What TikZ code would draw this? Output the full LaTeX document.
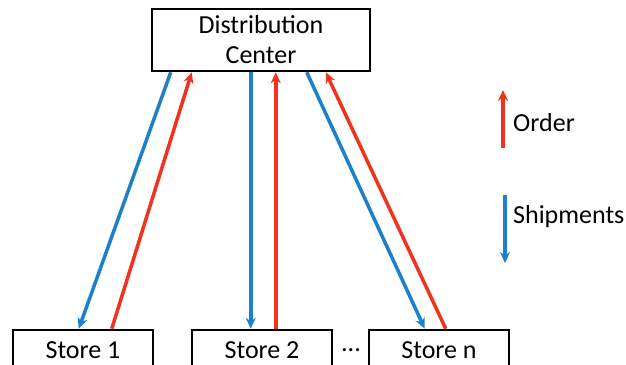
\documentclass[tikz,border=0pt]{standalone}
\usepackage{fontspec}
\setmainfont{Carlito}
\usetikzlibrary{arrows.meta}
\definecolor{shipblue}{RGB}{30,128,200}
\definecolor{orderred}{RGB}{240,50,30}
\begin{document}
\begin{tikzpicture}[
    x=1pt, y=-1pt,
    box/.style={draw, line width=2.5pt, inner sep=0pt, minimum width=140pt,
                minimum height=40pt, font=\fontsize{26}{30}\selectfont},
    ship/.style={shipblue, line width=3.5pt, -{Stealth[length=11pt,width=10pt]}},
    order/.style={orderred, line width=3.5pt, -{Stealth[length=11pt,width=10pt]}},
    lbl/.style={anchor=west, inner sep=0pt, font=\fontsize{26}{30}\selectfont}]
  \useasboundingbox (0,0) rectangle (626,364);
  \node[box, minimum width=218pt, minimum height=62pt, align=center] (dc) at (261,40)
    {Distribution\\Center};
  \node[box] (s1) at (83,350) {Store 1};
  \node[box] (s2) at (262,350) {Store 2};
  \node[box] (sn) at (439,350) {Store n};
  \node[inner sep=0pt, font=\fontsize{26}{30}\selectfont] (dots) at (351,350) {...};
  % store 1
  \draw[ship] ([xshift=20pt]dc.south west) -- ([xshift=67pt]s1.north west);
  \draw[order] ([xshift=100pt]s1.north west) -- ([xshift=41pt]dc.south west);
  % store 2
  \draw[ship] ([xshift=100pt]dc.south west) -- ([xshift=60pt]s2.north west);
  \draw[order] ([xshift=85pt]s2.north west) -- ([xshift=125pt]dc.south west);
  % store n
  \draw[ship] ([xshift=156pt]dc.south west) -- ([xshift=57pt]sn.north west);
  \draw[order] ([xshift=78pt]sn.north west) -- ([xshift=175pt]dc.south west);
  % legend
  \coordinate (o1) at (503,148);
  \coordinate (o2) at (503,90);
  \coordinate (p1) at (505,195);
  \coordinate (p2) at (505,263);
  \draw[order] (o1) -- (o2);
  \draw[ship] (p1) -- (p2);
  \node[lbl] (ordertxt) at (513,123) {Order};
  \node[lbl] (shiptxt) at (513,217) {Shipments};
\end{tikzpicture}
\end{document}
